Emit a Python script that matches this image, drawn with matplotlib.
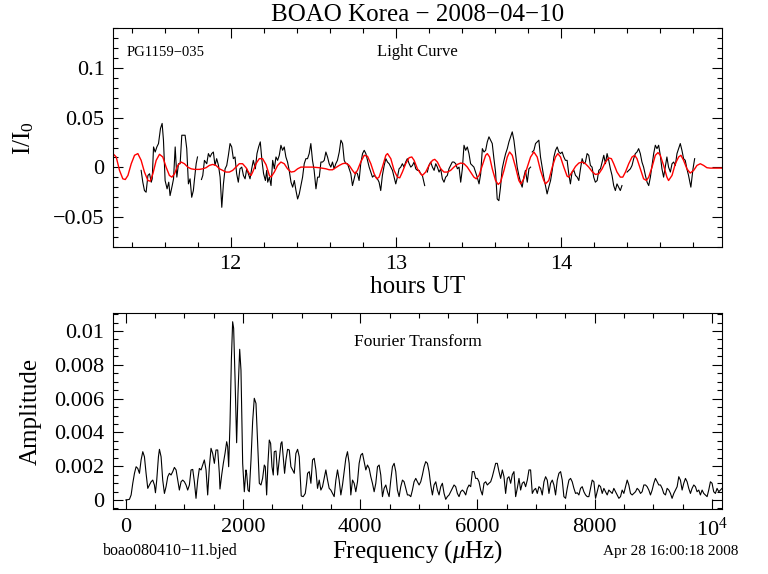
import numpy as np
import matplotlib
matplotlib.use("Agg")
import matplotlib.pyplot as plt
from matplotlib.ticker import MultipleLocator, FuncFormatter

plt.rcParams['font.family'] = ['Liberation Serif', 'DejaVu Serif']
plt.rcParams['mathtext.fontset'] = 'custom'
plt.rcParams['mathtext.rm'] = 'Liberation Serif'
plt.rcParams['mathtext.it'] = 'Liberation Serif:italic'

# light curve (hours UT, relative intensity in parts per thousand), nan = gap
lc_hours = [11.458, 11.468, 11.478, 11.488, 11.499, 11.509, 11.519, 11.525, 11.533, 11.543,
            11.553, 11.563, 11.575, 11.585, 11.593, 11.603, 11.615, 11.625, 11.633, 11.646,
            11.654, 11.664, 11.674, 11.684, 11.694, 11.704, 11.724, 11.734, 11.744, 11.754,
            11.764, 11.774, 11.780, 11.791, 11.799, np.nan,
            11.823, 11.831, 11.841, 11.855, 11.865, 11.875, 11.885, 11.895, 11.905, 11.915,
            11.926, 11.936, 11.946, 11.956, 11.966, 11.976, 11.986, 11.996, 12.006, 12.016,
            12.026, 12.036, 12.046, 12.056, 12.067, 12.077, 12.087, 12.097, 12.107, 12.117,
            12.127, 12.137, 12.149, 12.159, 12.169, 12.179, 12.189, 12.199, 12.210, 12.218,
            12.224, 12.234, 12.244, 12.254, 12.264, 12.274, 12.284, 12.294, 12.304, 12.314,
            12.324, 12.334, 12.344, 12.354, 12.365, 12.375, 12.385, 12.395, 12.405, 12.415,
            12.425, 12.435, 12.445, 12.455, 12.465, 12.475, 12.485, 12.495, 12.505, 12.516,
            12.526, 12.536, 12.546, 12.556, 12.566, 12.576, 12.586, 12.596, 12.606, 12.616,
            12.626, 12.636, 12.646, 12.657, 12.667, 12.677, 12.687, 12.697, 12.707, 12.717,
            12.727, 12.737, 12.747, 12.757, 12.767, 12.777, 12.787, 12.798, 12.808, 12.818,
            12.828, 12.838, 12.848, 12.858, 12.868, 12.878, 12.888, 12.898, 12.908, 12.918,
            12.929, 12.939, 12.949, 12.959, 12.969, 12.979, 12.989, 12.999, 13.009, 13.019,
            13.029, 13.039, 13.049, 13.059, 13.069, 13.080, 13.090, 13.100, 13.110, 13.120,
            13.130, 13.140, 13.150, 13.160, 13.174, np.nan,
            13.190, 13.200, 13.210, 13.221, 13.231, 13.241, 13.251, 13.261, 13.271, 13.281,
            13.291, 13.301, 13.311, 13.321, 13.331, 13.341, 13.351, 13.362, 13.372, 13.382,
            13.392, 13.402, 13.412, 13.422, 13.432, 13.442, 13.452, 13.462, 13.472, 13.482,
            13.492, 13.503, 13.513, 13.523, 13.533, 13.543, 13.553, 13.563, 13.573, 13.583,
            13.593, 13.603, 13.613, 13.623, 13.633, 13.643, 13.654, 13.664, 13.674, 13.684,
            13.694, 13.704, 13.714, 13.724, 13.734, 13.744, 13.754, 13.764, 13.774, 13.784,
            13.795, 13.805, 13.815, np.nan,
            13.825, 13.835, 13.845, 13.855, 13.865, 13.875, 13.885, 13.895, 13.905, 13.915,
            13.925, 13.936, 13.946, 13.956, 13.966, 13.976, 13.986, 13.996, 14.006, 14.016,
            14.026, 14.036, 14.046, 14.056, 14.066, 14.077, 14.087, 14.097, 14.107, 14.117,
            14.127, 14.137, 14.147, 14.157, 14.167, 14.177, 14.187, 14.197, 14.207, 14.218,
            14.228, 14.238, 14.248, 14.258, 14.268, 14.278, 14.288, 14.298, 14.308, 14.318,
            14.328, 14.338, 14.348, 14.358, 14.368, np.nan,
            14.399, 14.409, 14.419, 14.429, 14.439, 14.449, 14.459, 14.469, 14.479, 14.489,
            14.499, 14.510, 14.520, 14.530, 14.540, 14.550, 14.560, 14.570, 14.580, 14.590,
            14.600, 14.610, 14.620, 14.630, 14.640, 14.650, 14.661, 14.671, 14.681, 14.691,
            14.701, 14.711, 14.721, 14.731, 14.741, 14.751, 14.761, 14.771, 14.785, 14.798,
            14.808]
lc_ppt = [-3.0, -14.9, -23.3, -25.0, -8.1, -6.4, -14.9, -11.5, 20.6, 15.5,
          20.6, 24.0, 39.2, 44.3, 27.4, -13.2, -21.6, -14.9, -28.4, -18.3,
          -11.5, 20.6, -9.8, 3.7, 3.7, 32.4, 32.4, 18.9, -16.6, -11.5,
          -30.1, -23.3, -13.2, 3.7, 10.5, np.nan,
          -12.2, -8.1, 7.1, 3.7, 13.9, 10.5, 13.9, 15.5, 2.0, 8.8,
          2.0, -9.8, -40.2, -16.6, -1.4, 2.0, 12.2, 24.0, 20.6, 8.8,
          10.5, -6.4, -14.9, -1.4, 0.3, -8.1, -11.5, -1.4, -6.4, -11.5,
          -1.4, 7.1, -1.4, 13.9, 20.6, 25.7, 7.1, -6.4, -13.2, -3.0,
          -14.9, -9.8, -18.3, 7.1, -1.4, 10.5, 7.1, 12.2, 22.3, 17.2,
          20.6, 10.5, 5.4, -3.0, -14.9, -19.9, -13.2, -23.3, -31.8, -26.7,
          -18.3, -9.8, 3.7, 8.8, 8.8, 13.9, 24.0, 7.1, -3.0, -21.6,
          -9.8, -9.8, 5.4, 5.4, 7.1, 15.5, 10.5, 3.7, 0.3, 5.4,
          -1.4, 3.7, 7.1, 15.5, 27.4, 24.0, 7.1, 3.7, 3.7, -1.4,
          -6.4, -18.3, -11.5, -4.7, -6.4, -13.2, 3.7, 13.9, 17.2, 13.9,
          7.1, 0.3, -4.7, -9.8, -8.1, -9.8, -11.5, -14.9, -23.3, -8.1,
          2.0, 8.8, 5.4, 3.7, 0.3, -3.0, -9.8, -16.6, -9.8, -1.4,
          0.3, 3.7, 0.3, 5.4, 8.8, 3.7, 0.3, 2.0, 5.4, -1.4,
          -3.0, -3.0, -6.4, -8.1, -18.3, np.nan,
          -4.7, 2.0, 5.4, 0.3, -3.0, 3.7, 0.3, -4.7, -1.4, -11.5,
          -14.9, -9.8, -8.1, -1.4, 2.0, 5.4, 5.4, 3.7, -1.4, 0.3,
          -14.9, -1.4, 22.3, 17.2, 20.6, 13.9, 3.7, 2.0, 0.3, -4.7,
          -9.8, -16.6, -6.4, 18.9, 15.5, 17.2, 25.7, 30.8, 27.4, 24.0,
          8.8, -4.7, -31.8, -33.5, -19.9, -1.4, 7.1, 13.9, 18.9, 25.7,
          30.8, 35.8, 27.4, 13.9, 0.3, -8.1, -14.9, -19.9, -9.8, -3.0,
          -14.9, -1.4, 0.3, np.nan,
          15.5, 17.2, 24.0, 25.7, 27.4, 10.5, 0.3, -9.8, -18.3, -26.7,
          -19.9, -13.2, -3.0, 10.5, 17.2, 20.6, 15.5, 13.9, 15.5, 10.5,
          7.1, 7.1, -6.4, -16.6, -4.7, -3.0, -8.1, -9.8, -13.2, -1.4,
          8.8, 3.7, 5.4, 13.9, 12.2, 2.0, 0.3, -9.8, -14.9, -13.2,
          -3.0, -1.4, 5.4, 12.2, 3.7, 13.9, 7.1, -1.4, -8.1, -18.3,
          -23.3, -16.6, -19.9, -23.3, -18.3, np.nan,
          -4.7, -3.0, -1.4, 2.0, 8.8, 13.9, 15.5, 18.9, 13.9, 5.4,
          0.3, -8.1, -14.9, -18.3, -9.8, 2.0, 13.9, 22.3, 18.9, 22.3,
          12.2, -1.4, -9.8, 0.3, 10.5, 0.3, -4.7, 3.7, 5.4, 2.0,
          13.9, 18.9, 24.0, 17.2, 8.8, 7.1, -1.4, -8.1, -19.9, -1.4,
          8.8]

# multi-sine fit (red)
fit_hours = [11.287, 11.307, 11.327, 11.347, 11.362, 11.378, 11.398, 11.418, 11.438, 11.458,
             11.478, 11.499, 11.513, 11.529, 11.549, 11.569, 11.589, 11.609, 11.629, 11.644,
             11.660, 11.680, 11.700, 11.720, 11.740, 11.760, 11.780, 11.811, 11.831, 11.851,
             11.871, 11.891, 11.911, 11.932, 11.952, 11.972, 11.992, 12.012, 12.032, 12.052,
             12.072, 12.093, 12.113, 12.123, 12.133, 12.153, 12.173, 12.193, 12.214, 12.234,
             12.244, 12.264, 12.284, 12.304, 12.324, 12.344, 12.365, 12.385, 12.405, 12.425,
             12.455, 12.495, 12.536, 12.576, 12.596, 12.616, 12.636, 12.657, 12.677, 12.697,
             12.717, 12.737, 12.753, 12.767, 12.787, 12.808, 12.828, 12.848, 12.868, 12.884,
             12.898, 12.918, 12.939, 12.949, 12.969, 12.989, 13.009, 13.023, 13.039, 13.059,
             13.080, 13.096, 13.110, 13.130, 13.150, 13.160, 13.180, 13.200, 13.221, 13.235,
             13.251, 13.271, 13.291, 13.311, 13.331, 13.351, 13.372, 13.392, 13.412, 13.432,
             13.452, 13.472, 13.486, 13.503, 13.523, 13.543, 13.553, 13.567, 13.583, 13.603,
             13.619, 13.633, 13.654, 13.674, 13.688, 13.704, 13.724, 13.744, 13.756, 13.774,
             13.795, 13.815, 13.835, 13.855, 13.875, 13.895, 13.905, 13.925, 13.946, 13.966,
             13.980, 13.996, 14.016, 14.036, 14.046, 14.066, 14.087, 14.107, 14.127, 14.147,
             14.167, 14.187, 14.207, 14.228, 14.248, 14.268, 14.288, 14.304, 14.318, 14.338,
             14.358, 14.373, 14.389, 14.409, 14.429, 14.445, 14.459, 14.479, 14.499, 14.516,
             14.530, 14.550, 14.570, 14.586, 14.600, 14.620, 14.640, 14.650, 14.671, 14.691,
             14.711, 14.725, 14.741, 14.761, 14.781, 14.802, 14.822, 14.842, 14.862, 14.882,
             14.902, 14.933, 14.973]
fit_ppt = [13.9, 10.5, -3.0, -11.5, -12.2, -8.1, 3.7, 12.2, 13.9, 7.1,
           -4.7, -13.2, -13.9, -6.4, 7.1, 13.2, 10.5, 0.3, -8.1, -9.8,
           -6.4, 2.0, 5.4, 3.7, 0.3, -1.4, -2.0, -2.0, -1.4, -0.3,
           2.0, 3.0, 2.0, -1.4, -3.0, -4.7, -4.7, -3.0, 0.3, 3.7,
           3.7, -0.3, -6.4, -8.1, -4.7, 3.7, 8.8, 8.8, 2.7, -8.1,
           -9.8, -4.7, 2.0, 5.4, 3.7, -1.4, -4.7, -4.1, -1.4, 0.3,
           0.3, 0.3, -0.3, -1.4, -2.4, -2.4, -0.3, 2.0, 3.7, 4.4,
           2.0, -3.0, -6.4, -3.0, 5.4, 12.2, 11.2, 3.7, -6.4, -11.5,
           -9.8, 0.3, 12.2, 13.9, 8.8, -3.0, -9.8, -10.5, -4.7, 3.7,
           9.8, 10.5, 7.1, -1.4, -6.4, -8.1, -4.7, 2.0, 7.1, 8.1,
           5.4, -1.4, -4.7, -4.7, -3.0, 0.3, 3.0, 4.4, 3.7, 0.3,
           -4.7, -9.8, -11.5, -8.1, 2.0, 12.2, 13.9, 10.5, -1.4, -13.2,
           -17.2, -14.9, -3.0, 10.5, 15.5, 12.2, 0.3, -13.2, -16.6, -11.5,
           0.3, 10.5, 15.5, 10.5, -3.0, -13.2, -16.6, -13.2, 0.3, 10.5,
           13.9, 10.5, 0.3, -8.8, -9.8, -4.7, 1.0, 4.4, 5.4, 3.7,
           0.3, -4.1, -7.1, -6.4, -1.4, 5.4, 9.5, 8.8, 3.7, -4.7,
           -9.8, -9.8, -4.7, 3.7, 10.5, 12.2, 8.8, -1.4, -11.5, -13.2,
           -9.8, 0.3, 12.2, 14.9, 12.2, 2.0, -9.8, -13.2, -8.1, 3.7,
           10.5, 12.2, 7.1, -1.4, -5.7, -3.0, 2.0, 3.7, 2.0, -0.3,
           -0.7, -0.7, -0.7]

# amplitude spectrum (frequency in microHz, amplitude in parts per thousand)
ft_freq = [0, 62, 91, 119, 148, 176, 204, 233, 261, 290,
           318, 346, 375, 403, 432, 460, 488, 506, 528, 557,
           574, 602, 630, 659, 687, 716, 744, 772, 801, 829,
           858, 886, 914, 943, 971, 1000, 1028, 1056, 1085, 1113,
           1142, 1170, 1198, 1227, 1255, 1284, 1312, 1340, 1369, 1397,
           1426, 1454, 1482, 1511, 1539, 1568, 1596, 1607, 1636, 1664,
           1693, 1721, 1738, 1755, 1778, 1801, 1823, 1840, 1863, 1891,
           1914, 1943, 1965, 1994, 2022, 2050, 2062, 2085, 2107, 2136,
           2164, 2192, 2221, 2255, 2278, 2306, 2334, 2363, 2380, 2403,
           2425, 2448, 2471, 2494, 2516, 2533, 2562, 2590, 2618, 2647,
           2664, 2687, 2709, 2732, 2760, 2789, 2817, 2846, 2874, 2902,
           2931, 2959, 2993, 3027, 3062, 3084, 3101, 3130, 3158,
           3186, 3214, 3243, 3271, 3300, 3328, 3356, 3385, 3413, 3442,
           3470, 3498, 3527, 3555, 3584, 3612, 3640, 3669, 3697, 3726,
           3754, 3782, 3811, 3839, 3868, 3896, 3924, 3953, 3981, 4010,
           4038, 4066, 4095, 4123, 4152, 4180, 4208, 4237, 4265, 4294,
           4322, 4350, 4379, 4407, 4436, 4464, 4492, 4521, 4549, 4578,
           4606, 4634, 4663, 4691, 4720, 4748, 4776, 4805, 4833, 4862,
           4890, 4918, 4947, 4975, 5004, 5032, 5060, 5089, 5117, 5146,
           5174, 5202, 5231, 5259, 5288, 5316, 5344, 5373, 5401, 5430,
           5458, 5486, 5515, 5543, 5572, 5600, 5628, 5657, 5685, 5714,
           5742, 5770, 5799, 5827, 5856, 5884, 5912, 5941, 5969, 5998,
           6026, 6054, 6083, 6111, 6140, 6168, 6196, 6225, 6253, 6282,
           6310, 6338, 6367, 6395, 6424, 6452, 6480, 6509, 6537, 6566,
           6594, 6622, 6651, 6679, 6708, 6736, 6764, 6793, 6821, 6850,
           6878, 6906, 6935, 6963, 6992, 7020, 7048, 7077, 7105, 7134,
           7162, 7190, 7219, 7247, 7276, 7304, 7332, 7361, 7389, 7418,
           7446, 7474, 7503, 7531, 7560, 7588, 7616, 7645, 7673, 7702,
           7730, 7758, 7787, 7815, 7844, 7872, 7900, 7929, 7957, 7986,
           8014, 8042, 8071, 8099, 8128, 8156, 8184, 8213, 8241, 8270,
           8298, 8326, 8355, 8383, 8412, 8440, 8468, 8497, 8525, 8554,
           8582, 8610, 8639, 8667, 8696, 8724, 8752, 8781, 8809, 8838,
           8866, 8894, 8923, 8951, 8980, 9008, 9036, 9065, 9093, 9122,
           9150, 9178, 9207, 9235, 9264, 9292, 9320, 9349, 9377, 9406,
           9434, 9462, 9491, 9519, 9548, 9576, 9604, 9633, 9661, 9690,
           9718, 9746, 9775, 9803, 9832, 9860, 9888, 9917, 9945, 9974,
           10002, 10030, 10059, 10087, 10116, 10144, 10172]
ft_amp = [0.0, 0.04, 0.30, 0.99, 1.58, 1.97, 1.87, 1.58, 2.37, 2.86,
          2.56, 1.58, 0.69, 0.89, 1.08, 1.18, 0.89, 0.43, 1.18, 2.56,
          3.00, 2.56, 1.18, 0.39, 0.79, 1.38, 1.58, 1.48, 1.68, 1.93,
          1.78, 1.18, 0.59, 1.08, 1.18, 1.08, 0.89, 0.59, 0.89, 1.78,
          1.81, 1.08, 0.10, 1.18, 1.87, 1.78, 2.07, 2.37, 1.78, 0.30,
          1.97, 3.06, 2.76, 2.17, 2.96, 2.96, 1.58, 0.65, 1.48, 2.17,
          2.76, 3.45, 3.16, 1.97, 4.54, 8.28, 10.55, 10.16, 7.30, 3.39,
          6.31, 8.92, 7.69, 2.17, 0.49, 1.78, 1.58, 0.59, 0.49, 2.37,
          4.64, 6.02, 5.72, 2.96, 0.99, 0.89, 1.28, 2.07, 1.97, 0.30,
          2.17, 3.55, 3.35, 1.97, 1.48, 2.86, 2.90, 1.48, 2.37, 3.35,
          3.45, 2.47, 1.58, 2.37, 3.00, 2.96, 1.97, 1.78, 1.58, 2.76,
          3.00, 2.56, 0.24, 0.20, 0.39, 0.99, 1.58, 1.68, 0.99,
          2.37, 2.47, 1.78, 0.69, 1.18, 0.59, 0.79, 1.28, 1.78, 1.18,
          0.69, 0.59, 0.39, 0.20, 1.18, 1.78, 1.18, 0.30, 0.89, 1.68,
          2.47, 2.86, 2.17, 0.30, 1.18, 0.99, 0.49, 1.08, 2.17, 2.66,
          2.76, 2.27, 1.78, 2.07, 1.87, 1.38, 0.99, 0.49, 0.99, 1.97,
          2.07, 1.48, 0.20, 0.69, 0.89, 0.49, 0.20, 1.18, 1.97, 2.17,
          1.68, 0.59, 0.20, 0.79, 1.18, 1.08, 0.69, 0.30, 0.30, 0.20,
          0.59, 1.08, 1.28, 1.08, 0.89, 1.08, 1.48, 1.97, 2.27, 2.17,
          1.68, 0.89, 0.30, 0.89, 1.08, 0.59, 0.30, 0.79, 0.99, 0.39,
          0.04, 0.20, 0.30, 0.49, 0.69, 0.89, 0.79, 0.39, 0.20, 0.49,
          0.59, 0.49, 0.30, 0.69, 0.89, 0.79, 1.68, 1.68, 1.28, 1.28,
          1.08, 0.59, 0.30, 0.99, 1.08, 0.89, 0.99, 1.08, 1.38, 1.78,
          2.17, 2.17, 1.68, 1.28, 1.78, 1.38, 0.39, 1.28, 1.38, 0.99,
          1.50, 1.68, 0.20, 0.69, 1.28, 0.59, 0.99, 1.08, 0.79, 1.18,
          1.78, 1.78, 0.39, 0.59, 0.69, 0.39, 0.79, 0.69, 0.30, 1.08,
          1.38, 1.18, 0.39, 0.99, 1.18, 0.89, 0.30, 1.18, 1.58, 1.68,
          1.18, 0.20, 0.10, 0.69, 1.18, 1.28, 1.08, 0.69, 0.39, 0.43,
          0.30, 0.69, 0.79, 0.49, 0.30, 0.20, 0.20, 0.69, 1.18, 1.08,
          0.10, 0.49, 0.89, 0.79, 0.39, 0.69, 0.49, 0.30, 0.59, 0.49,
          0.39, 0.69, 0.49, 0.30, 0.10, 0.20, 0.59, 0.39, 0.79, 1.18,
          0.89, 0.39, 0.30, 0.39, 0.49, 0.69, 0.59, 0.39, 0.49, 0.89,
          0.89, 0.79, 0.59, 0.30, 0.59, 0.99, 1.28, 1.08, 0.89, 0.89,
          0.69, 0.39, 0.30, 0.69, 0.59, 0.39, 0.10, 0.39, 0.59, 0.79,
          1.38, 1.18, 0.59, 0.99, 1.28, 1.08, 0.69, 0.39, 0.69, 0.89,
          0.79, 0.49, 0.59, 0.30, 0.59, 0.39, 0.30, 0.20, 0.59, 1.08,
          0.99, 0.49, 0.39, 0.69, 0.49, 0.59, 0.69]

MINUS = '\u2212'


def num_fmt(v, pos):
    if abs(v) < 1e-12:
        return '0'
    return ('%g' % round(v, 6)).replace('-', MINUS)


def freq_fmt(v, pos):
    if abs(v - 10000) < 1:
        return '$10^4$'
    return '%d' % round(v)


def style_axis(ax):
    for s in ax.spines.values():
        s.set_linewidth(0.8)
    ax.tick_params(which='both', direction='in', top=True, right=True,
                   width=0.8, labelsize=16)
    ax.tick_params(which='major', length=7)
    ax.tick_params(which='minor', length=3.5)
    ax.tick_params(axis='x', pad=6)
    ax.tick_params(axis='y', pad=6)


fig = plt.figure(figsize=(7.68, 5.74), dpi=100)
ax1 = fig.add_axes([0.147, 0.570, 0.793, 0.3805])
ax2 = fig.add_axes([0.147, 0.1127, 0.793, 0.3415])

# top: light curve + fit
ax1.plot(lc_hours, np.array(lc_ppt) / 1000.0, color='black', lw=0.8)
ax1.plot(fit_hours, np.array(fit_ppt) / 1000.0, color='red', lw=1.0)
ax1.set_xlim(11.287, 14.973)
ax1.set_ylim(-0.08, 0.14)
ax1.xaxis.set_major_locator(MultipleLocator(1))
ax1.xaxis.set_minor_locator(MultipleLocator(0.2))
ax1.yaxis.set_major_locator(MultipleLocator(0.05))
ax1.yaxis.set_minor_locator(MultipleLocator(0.01))
ax1.yaxis.set_major_formatter(FuncFormatter(num_fmt))
style_axis(ax1)
ax1.set_xlabel('hours UT', fontsize=18, labelpad=1)
ax1.set_ylabel('I/I$_0$', fontsize=18)
ax1.yaxis.set_label_coords(-0.127, 0.5)
ax1.set_title('BOAO Korea ' + MINUS + ' 2008' + MINUS + '04' + MINUS + '10',
              fontsize=18, pad=5)
ax1.text(0.023, 0.89, 'PG1159' + MINUS + '035', transform=ax1.transAxes,
         fontsize=10.5, va='center', ha='left')
ax1.text(0.5, 0.89, 'Light Curve', transform=ax1.transAxes,
         fontsize=12, va='center', ha='center')

# bottom: amplitude spectrum
ax2.plot(ft_freq, np.array(ft_amp) / 1000.0, color='black', lw=0.8)
ax2.set_xlim(-220, 10170)
ax2.set_ylim(-0.00055, 0.01105)
ax2.xaxis.set_major_locator(MultipleLocator(2000))
ax2.xaxis.set_minor_locator(MultipleLocator(500))
ax2.xaxis.set_major_formatter(FuncFormatter(freq_fmt))
ax2.yaxis.set_major_locator(MultipleLocator(0.002))
ax2.yaxis.set_minor_locator(MultipleLocator(0.0005))
ax2.yaxis.set_major_formatter(FuncFormatter(num_fmt))
style_axis(ax2)
ax2.set_xlabel('Frequency ($\\mu$Hz)', fontsize=18, labelpad=-2)
ax2.set_ylabel('Amplitude', fontsize=18)
ax2.yaxis.set_label_coords(-0.117, 0.5)
ax2.text(0.5, 0.853, 'Fourier Transform', transform=ax2.transAxes,
         fontsize=12.5, va='center', ha='center')

fig.text(0.134, 0.040, 'boao080410' + MINUS + '11.bjed', fontsize=11.5,
         ha='left', va='center')
fig.text(0.961, 0.040, 'Apr 28 16:00:18 2008', fontsize=11,
         ha='right', va='center')

fig.savefig('out.png', dpi=100)
